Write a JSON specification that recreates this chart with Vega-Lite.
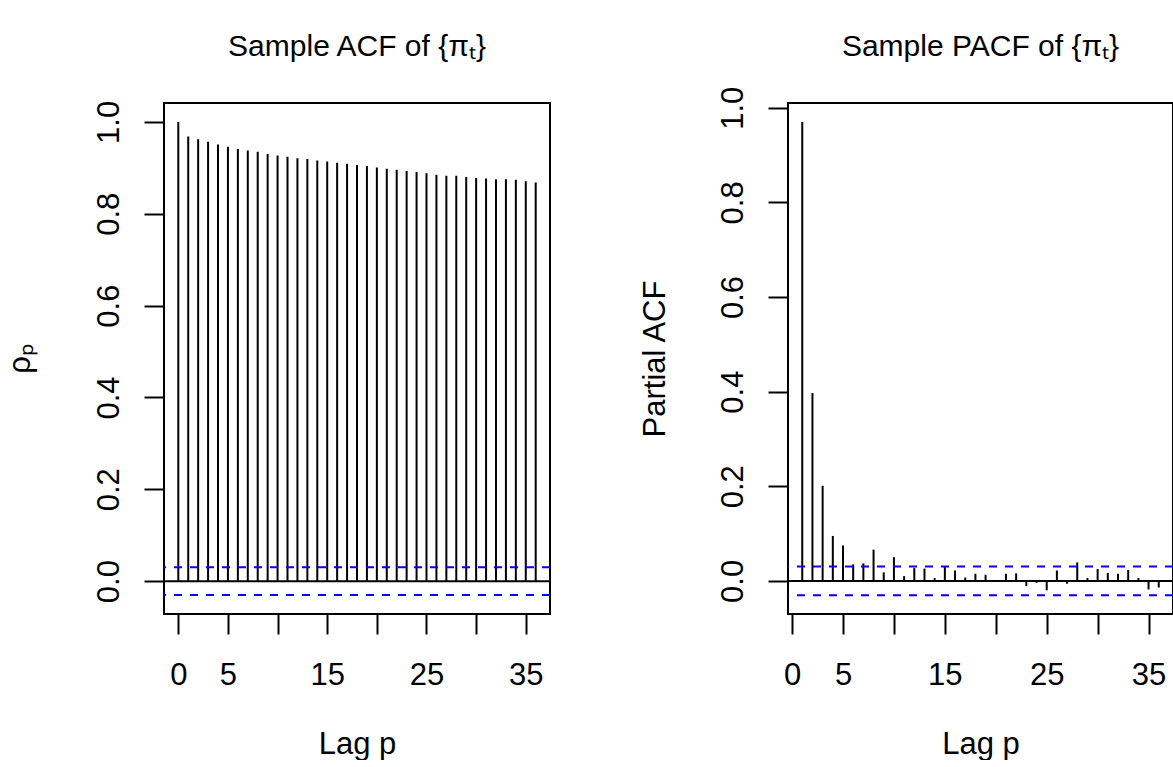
{
  "$schema": "https://vega.github.io/schema/vega-lite/v6.json",
  "background": "white",
  "padding": {"left": 3, "top": 31, "right": 0, "bottom": 0},
  "bounds": "flush",
  "spacing": 238,
  "datasets": {
    "acf": [
      {"lag": 0, "value": 1.000}, {"lag": 1, "value": 0.968}, {"lag": 2, "value": 0.962}, {"lag": 3, "value": 0.957},
      {"lag": 4, "value": 0.951}, {"lag": 5, "value": 0.946}, {"lag": 6, "value": 0.941}, {"lag": 7, "value": 0.938},
      {"lag": 8, "value": 0.935}, {"lag": 9, "value": 0.930}, {"lag": 10, "value": 0.927}, {"lag": 11, "value": 0.924},
      {"lag": 12, "value": 0.921}, {"lag": 13, "value": 0.919}, {"lag": 14, "value": 0.916}, {"lag": 15, "value": 0.914},
      {"lag": 16, "value": 0.911}, {"lag": 17, "value": 0.909}, {"lag": 18, "value": 0.906}, {"lag": 19, "value": 0.904},
      {"lag": 20, "value": 0.901}, {"lag": 21, "value": 0.898}, {"lag": 22, "value": 0.896}, {"lag": 23, "value": 0.893},
      {"lag": 24, "value": 0.891}, {"lag": 25, "value": 0.888}, {"lag": 26, "value": 0.885}, {"lag": 27, "value": 0.883},
      {"lag": 28, "value": 0.883}, {"lag": 29, "value": 0.880}, {"lag": 30, "value": 0.878}, {"lag": 31, "value": 0.877},
      {"lag": 32, "value": 0.875}, {"lag": 33, "value": 0.875}, {"lag": 34, "value": 0.874}, {"lag": 35, "value": 0.871},
      {"lag": 36, "value": 0.868}
    ],
    "pacf": [
      {"lag": 1, "value": 0.970}, {"lag": 2, "value": 0.397}, {"lag": 3, "value": 0.201}, {"lag": 4, "value": 0.095},
      {"lag": 5, "value": 0.075}, {"lag": 6, "value": 0.035}, {"lag": 7, "value": 0.037}, {"lag": 8, "value": 0.066},
      {"lag": 9, "value": 0.018}, {"lag": 10, "value": 0.050}, {"lag": 11, "value": 0.010}, {"lag": 12, "value": 0.027},
      {"lag": 13, "value": 0.026}, {"lag": 14, "value": 0.006}, {"lag": 15, "value": 0.030}, {"lag": 16, "value": 0.022},
      {"lag": 17, "value": 0.007}, {"lag": 18, "value": 0.015}, {"lag": 19, "value": 0.013}, {"lag": 20, "value": 0.002},
      {"lag": 21, "value": 0.015}, {"lag": 22, "value": 0.016}, {"lag": 23, "value": -0.011}, {"lag": 24, "value": -0.004},
      {"lag": 25, "value": -0.020}, {"lag": 26, "value": 0.022}, {"lag": 27, "value": -0.006}, {"lag": 28, "value": 0.039},
      {"lag": 29, "value": 0.006}, {"lag": 30, "value": 0.025}, {"lag": 31, "value": 0.017}, {"lag": 32, "value": 0.015},
      {"lag": 33, "value": 0.023}, {"lag": 34, "value": 0.006}, {"lag": 35, "value": -0.018}, {"lag": 36, "value": -0.014}
    ],
    "zero": [{"y": 0}],
    "clim": [{"y": 0.0303}, {"y": -0.0303}]
  },
  "config": {
    "font": "Liberation Sans",
    "view": {"stroke": "black", "strokeWidth": 2},
    "title": {"fontSize": 30, "fontWeight": "normal", "color": "black", "font": "Liberation Sans", "anchor": "middle", "frame": "group", "baseline": "alphabetic"},
    "axis": {
      "grid": false, "domain": false, "tickColor": "black", "tickWidth": 2, "tickSize": 20,
      "labelFont": "Liberation Sans", "labelFontSize": 31, "labelColor": "black", "labelOverlap": false,
      "titleFont": "Liberation Sans", "titleFontSize": 31, "titleFontWeight": "normal", "titleColor": "black"
    }
  },
  "hconcat": [
    {
      "width": 386, "height": 511,
      "title": {"text": "Sample ACF of {πₜ}", "offset": 38},
      "layer": [
        {
          "data": {"name": "acf"},
          "mark": {"type": "rule", "color": "black", "strokeWidth": 2},
          "encoding": {
            "x": {"field": "lag", "type": "quantitative",
                  "scale": {"domain": [-1.44, 37.44], "nice": false, "zero": false},
                  "axis": {"values": [0, 5, 10, 15, 20, 25, 30, 35], "labelBaseline": "alphabetic", "labelPadding": 50,
                           "labelExpr": "(datum.value == 10 || datum.value == 20 || datum.value == 30) ? '' : datum.label",
                           "titleBaseline": "alphabetic", "titleY": 139},
                  "title": "Lag p"},
            "y": {"field": "value", "type": "quantitative",
                  "scale": {"domain": [-0.0715, 1.0412], "nice": false, "zero": false},
                  "axis": {"values": [0, 0.2, 0.4, 0.6, 0.8, 1.0], "format": ".1f", "labelAngle": 270, "labelAlign": "center",
                           "labelBaseline": "alphabetic", "labelPadding": 26,
                           "titleAngle": 270, "titleBaseline": "alphabetic", "titleX": -135, "titleY": 255.5},
                  "title": "ρₚ"},
            "y2": {"datum": 0}
          }
        },
        {
          "data": {"name": "zero"},
          "mark": {"type": "rule", "color": "black", "strokeWidth": 2},
          "encoding": {"y": {"field": "y", "type": "quantitative"}}
        },
        {
          "data": {"name": "clim"},
          "mark": {"type": "rule", "color": "#0000FF", "strokeWidth": 2, "strokeDash": [8, 8]},
          "encoding": {"y": {"field": "y", "type": "quantitative"}}
        }
      ]
    },
    {
      "width": 385, "height": 511,
      "title": {"text": "Sample PACF of {πₜ}", "offset": 24},
      "layer": [
        {
          "data": {"name": "pacf"},
          "mark": {"type": "rule", "color": "black", "strokeWidth": 2},
          "encoding": {
            "x": {"field": "lag", "type": "quantitative",
                  "scale": {"domain": [-0.4, 37.4], "nice": false, "zero": false},
                  "axis": {"values": [0, 5, 10, 15, 20, 25, 30, 35], "labelBaseline": "alphabetic", "labelPadding": 50,
                           "labelExpr": "(datum.value == 10 || datum.value == 20 || datum.value == 30) ? '' : datum.label",
                           "titleBaseline": "alphabetic", "titleY": 139},
                  "title": "Lag p"},
            "y": {"field": "value", "type": "quantitative",
                  "scale": {"domain": [-0.07, 1.01], "nice": false, "zero": false},
                  "axis": {"values": [0, 0.2, 0.4, 0.6, 0.8, 1.0], "format": ".1f", "labelAngle": 270, "labelAlign": "center",
                           "labelBaseline": "alphabetic", "labelPadding": 26,
                           "titleAngle": 270, "titleBaseline": "alphabetic", "titleX": -124, "titleY": 255.5},
                  "title": "Partial ACF"},
            "y2": {"datum": 0}
          }
        },
        {
          "data": {"name": "zero"},
          "mark": {"type": "rule", "color": "black", "strokeWidth": 2},
          "encoding": {"y": {"field": "y", "type": "quantitative"}}
        },
        {
          "data": {"name": "clim"},
          "mark": {"type": "rule", "color": "#0000FF", "strokeWidth": 2, "strokeDash": [8, 8]},
          "encoding": {"y": {"field": "y", "type": "quantitative"}}
        }
      ]
    }
  ]
}
